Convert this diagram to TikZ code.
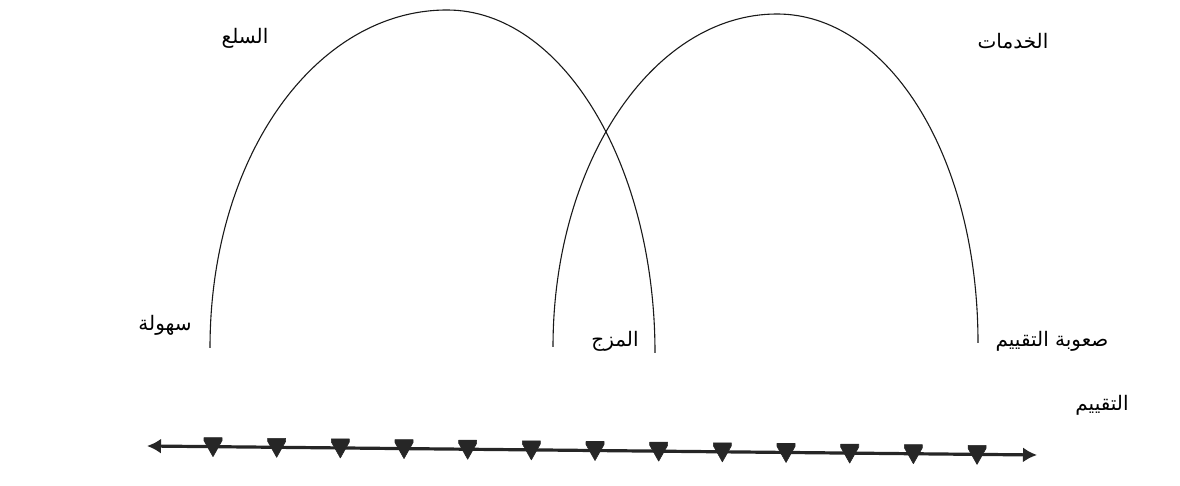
\documentclass[tikz,border=0pt]{standalone}
\usepackage{fontspec}
\newfontfamily\arabicfont[Script=Arabic]{DejaVu Sans}
\TeXXeTstate=1
\usetikzlibrary{arrows.meta,calc}
\tikzset{
  arch/.style={draw=black!90, line width=1.1pt},
  axisline/.style={draw=black!85, line width=3.2pt, {Latex[length=14pt,width=15pt]}-{Latex[length=14pt,width=15pt]}},
  tick/.style={fill=black!85, draw=black!85, line width=0.6pt, line join=round},
  lbl/.style={font=\arabicfont\fontsize{20}{24}\selectfont, inner sep=0pt, text=black}
}
\begin{document}
\begin{tikzpicture}[x=1pt,y=1pt]
\useasboundingbox (0,0) rectangle (1180,486);
% arch anchor points (y measured upward)
\coordinate (gl) at (210,138);
\coordinate (gp) at (447,476);
\coordinate (gr) at (655,133);
\coordinate (sl) at (553,139);
\coordinate (sp) at (777,472);
\coordinate (sr) at (978,143);
% goods arch
\draw[arch] (gl) .. controls (210,330) and (316,476) .. (gp)
                 .. controls (562,476) and (655,322) .. (gr);
% services arch
\draw[arch] (sl) .. controls (553,323) and (653,472) .. (sp)
                 .. controls (888,472) and (978,330) .. (sr);
% axis (slightly tilted, as in the scan)
\coordinate (al) at (147,40);
\coordinate (ar) at (1037,31);
\draw[axisline] (al) -- (ar);
\foreach \i in {0,...,12}{
  \pgfmathsetmacro{\tx}{213+63.67*\i}
  \pgfmathsetmacro{\ty}{40-(\tx-147)*9/890}
  \coordinate (t\i) at (\tx,\ty);
  \fill[tick] ($(t\i)+(-9,9)$) -- ($(t\i)+(9,9)$) -- ($(t\i)+(9,6)$) -- ($(t\i)+(0,-10)$) -- ($(t\i)+(-9,6)$) -- cycle;
}
% labels
\node[lbl] (goods) at (245,448) {\beginR السلع\endR};
\node[lbl] (services) at (1013,445) {\beginR الخدمات\endR};
\node[lbl] (easy) at (165,161) {\beginR سهولة\endR};
\node[lbl] (mix) at (615,145) {\beginR المزج\endR};
\node[lbl] (hard) at (1052,145) {\beginR صعوبة التقييم\endR};
\node[lbl] (eval) at (1102,81) {\beginR التقييم\endR};
\end{tikzpicture}
\end{document}
